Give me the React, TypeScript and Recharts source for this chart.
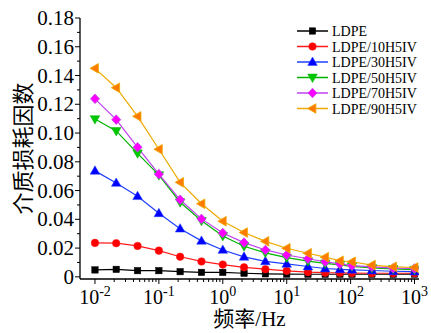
import React from 'react';
import { LineChart, Line, XAxis, YAxis, Legend } from 'recharts';

// frequency points (Hz)
const FREQ = [0.01, 0.0215, 0.0464, 0.1, 0.215, 0.464, 1, 2.15, 4.64, 10, 21.5, 40, 68, 105, 215, 464, 1000];

const LDPE = [0.0048, 0.0052, 0.0043, 0.0043, 0.0036, 0.0031, 0.0031, 0.0025, 0.0021, 0.0019, 0.0018, 0.0018, 0.0018, 0.0018, 0.0018, 0.0018, 0.0019];
const H10 = [0.0236, 0.0234, 0.0215, 0.0182, 0.014, 0.0107, 0.0085, 0.0066, 0.0053, 0.0042, 0.0033, 0.0029, 0.0028, 0.0026, 0.0025, 0.0025, 0.0025];
const H30 = [0.0737, 0.0653, 0.0561, 0.0442, 0.0335, 0.025, 0.0187, 0.0139, 0.0108, 0.009, 0.0072, 0.0058, 0.0052, 0.0049, 0.0044, 0.0039, 0.0036];
const H50 = [0.1097, 0.1015, 0.0859, 0.0707, 0.0519, 0.039, 0.0284, 0.0213, 0.0167, 0.0134, 0.0109, 0.0093, 0.0083, 0.0073, 0.0062, 0.0055, 0.005];
const H70 = [0.1238, 0.1093, 0.0901, 0.0714, 0.0536, 0.0403, 0.0305, 0.0238, 0.0187, 0.0152, 0.0126, 0.0105, 0.009, 0.0078, 0.007, 0.006, 0.0058];
const H90 = [0.145, 0.1315, 0.1116, 0.0887, 0.0657, 0.0508, 0.0387, 0.0308, 0.0247, 0.0199, 0.0164, 0.0137, 0.0112, 0.0105, 0.0082, 0.007, 0.0065];

const NAMES = ['LDPE', 'LDPE/10H5IV', 'LDPE/30H5IV', 'LDPE/50H5IV', 'LDPE/70H5IV', 'LDPE/90H5IV'];

const X_MAJOR = [0.01, 0.1, 1, 10, 100, 1000];
const X_MINOR_MULT = [2, 3, 4, 5, 6, 7, 8, 9];
const Y_TICKS = [0, 0.01, 0.02, 0.03, 0.04, 0.05, 0.06, 0.07, 0.08, 0.09, 0.1, 0.11, 0.12, 0.13, 0.14, 0.15, 0.16, 0.17, 0.18];

const X_TICKS = [
  ...X_MAJOR,
  ...X_MAJOR.slice(0, -1).flatMap((d) => X_MINOR_MULT.map((m) => d * m)),
].sort((a, b) => a - b);

const SERIES = [
  { key: 's0', values: LDPE, line: '#000000', fill: '#000000', shape: 'square' },
  { key: 's1', values: H10, line: '#ff1a1a', fill: '#ff0000', shape: 'circle' },
  { key: 's2', values: H30, line: '#2040ff', fill: '#0000ff', shape: 'up' },
  { key: 's3', values: H50, line: '#00b400', fill: '#00c800', shape: 'down' },
  { key: 's4', values: H70, line: '#c040f0', fill: '#ff00ff', shape: 'diamond' },
  { key: 's5', values: H90, line: '#eeaa00', fill: '#ff7a00', shape: 'left' },
];

const data = FREQ.map((f, i) => {
  const row: any = { f };
  SERIES.forEach((s) => (row[s.key] = s.values[i]));
  return row;
});

const SERIF = '"Liberation Serif", "Times New Roman", "Noto Sans CJK SC", serif';

const Marker = ({ cx, cy, shape, fill, stroke }: any) => {
  if (cx == null || cy == null) return null;
  switch (shape) {
    case 'square':
      return <rect x={cx - 3.2} y={cy - 3.2} width={6.4} height={6.4} fill={fill} stroke={stroke} strokeWidth={0.5} />;
    case 'circle':
      return <circle cx={cx} cy={cy} r={3.8} fill={fill} stroke={stroke} strokeWidth={0.5} />;
    case 'up':
      return <polygon points={`${cx},${cy - 5} ${cx + 4.8},${cy + 3.4} ${cx - 4.8},${cy + 3.4}`} fill={fill} stroke={stroke} strokeWidth={0.5} />;
    case 'down':
      return <polygon points={`${cx},${cy + 5} ${cx + 4.8},${cy - 3.4} ${cx - 4.8},${cy - 3.4}`} fill={fill} stroke={stroke} strokeWidth={0.5} />;
    case 'diamond':
      return <polygon points={`${cx},${cy - 4.8} ${cx + 4.5},${cy} ${cx},${cy + 4.8} ${cx - 4.5},${cy}`} fill={fill} stroke={stroke} strokeWidth={0.8} />;
    case 'left':
      return <polygon points={`${cx - 5},${cy} ${cx + 3.4},${cy - 4.8} ${cx + 3.4},${cy + 4.8}`} fill={fill} stroke={stroke} strokeWidth={0.8} />;
    default:
      return null;
  }
};

const XTick = (props: any) => {
  const { x, y, payload } = props;
  const lg = Math.log10(payload.value);
  const exp = Math.round(lg);
  const major = Math.abs(lg - exp) < 1e-6;
  return (
    <g>
      <line x1={x} x2={x} y1={y} y2={y + (major ? 5 : 3)} stroke="#000" strokeWidth={1} />
      {major && (
        <text x={x} y={y + 25} textAnchor="middle" fontSize={20} fontFamily={SERIF} fill="#000">
          <tspan>10</tspan>
          <tspan dy={-8} fontSize={14}>{exp}</tspan>
        </text>
      )}
    </g>
  );
};

const YTick = (props: any) => {
  const { x, y, payload } = props;
  const v = payload.value;
  const major = Math.round(v * 100) % 2 === 0;
  return (
    <g>
      <line x1={x - (major ? 5 : 3)} x2={x} y1={y} y2={y} stroke="#000" strokeWidth={1} />
      {major && (
        <text x={x - 6} y={y + 7} textAnchor="end" fontSize={21} fontFamily={SERIF} fill="#000">
          {v === 0 ? '0' : v.toFixed(2)}
        </text>
      )}
    </g>
  );
};

const LegendBox = () => (
  <svg width={140} height={100} style={{ overflow: 'visible' }}>
    {SERIES.map((s, i) => {
      const cy = 8 + i * 15.5;
      return (
        <g key={s.key}>
          <line x1={0} x2={31} y1={cy} y2={cy} stroke={s.line} strokeWidth={1.5} />
          <Marker cx={15.5} cy={cy} shape={s.shape} fill={s.fill} stroke={s.line} />
          <text x={35} y={cy + 5} fontSize={14} fontFamily={SERIF} fill="#000">
            {NAMES[i]}
          </text>
        </g>
      );
    })}
  </svg>
);

export default function App() {
  return (
    <div style={{ position: 'absolute', left: 0, top: 0, width: 431, height: 333, background: '#fff' }}>
      <LineChart width={431} height={333} data={data} margin={{ top: 18, right: 12, left: 0, bottom: 0 }}>
        <XAxis
          dataKey="f"
          type="number"
          scale="log"
          domain={[0.00583, 1175]}
          allowDataOverflow
          ticks={X_TICKS}
          interval={0}
          tick={<XTick />}
          tickLine={false}
          tickSize={0}
          tickMargin={0}
          height={54}
          axisLine={{ stroke: '#000', strokeWidth: 1.3 }}
          label={{
            content: (p: any) => {
              const vb = p.viewBox;
              return (
                <text x={vb.x + vb.width / 2} y={vb.y + 47} textAnchor="middle" fontSize={21} fontFamily={SERIF} fill="#000">
                  频率/Hz
                </text>
              );
            },
          }}
        />
        <YAxis
          type="number"
          domain={[-0.0015, 0.18]}
          allowDataOverflow
          ticks={Y_TICKS}
          interval={0}
          tick={<YTick />}
          tickLine={false}
          tickSize={0}
          tickMargin={0}
          width={80}
          axisLine={{ stroke: '#000', strokeWidth: 1.3 }}
          label={{
            content: (p: any) => {
              const vb = p.viewBox;
              const cx = 23;
              const cy = vb.y + vb.height / 2;
              return (
                <text
                  x={cx}
                  y={cy}
                  transform={`rotate(-90 ${cx} ${cy})`}
                  textAnchor="middle"
                  dominantBaseline="central"
                  fontSize={22}
                  fontFamily={SERIF}
                  fill="#000"
                >
                  介质损耗因数
                </text>
              );
            },
          }}
        />
        <Legend
          layout="vertical"
          align="center"
          verticalAlign="middle"
          wrapperStyle={{ position: 'absolute', left: 297, top: 23, width: 140, height: 100 }}
          content={() => <LegendBox />}
        />
        {SERIES.map((s, i) => (
          <Line
            key={s.key}
            dataKey={s.key}
            name={NAMES[i]}
            stroke={s.line}
            strokeWidth={1.2}
            isAnimationActive={false}
            dot={(p: any) => <Marker key={`${s.key}-${p.index}`} cx={p.cx} cy={p.cy} shape={s.shape} fill={s.fill} stroke={s.line} />}
            activeDot={false}
          />
        ))}
      </LineChart>
    </div>
  );
}
